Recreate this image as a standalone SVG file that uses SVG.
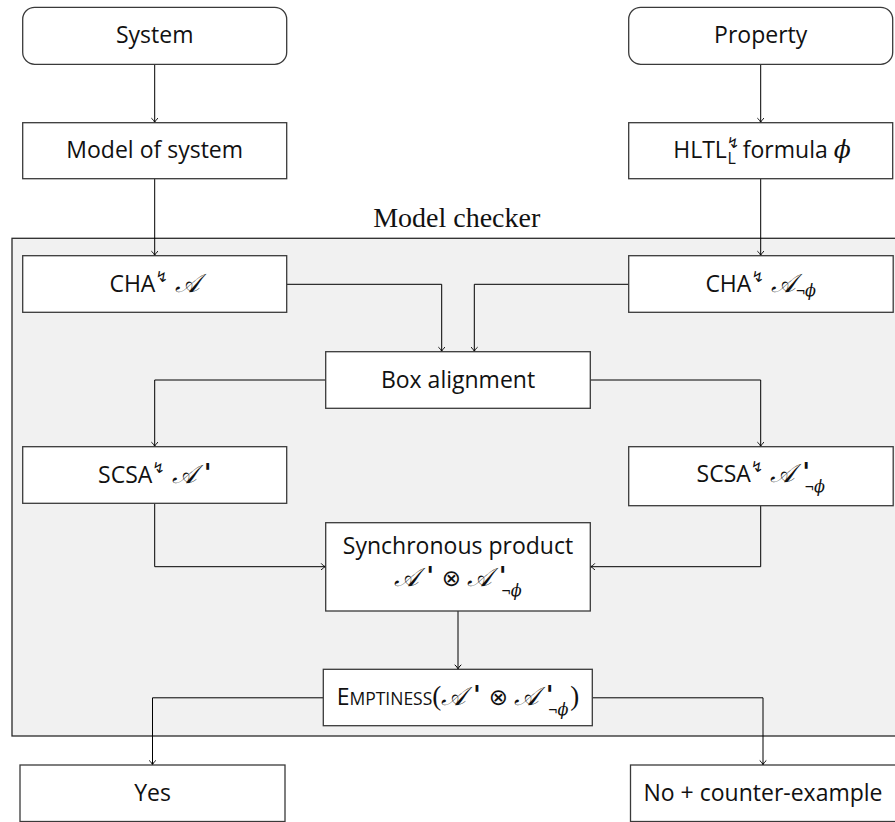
<svg xmlns="http://www.w3.org/2000/svg" width="895" height="822" viewBox="0 0 895 822">
  <style>
    .box { fill: #ffffff; stroke: #3a3a3a; stroke-width: 1.3; }
    .frame { fill: #f1f1f1; stroke: #2a2a2a; stroke-width: 1.3; }
    .lbl { font-family: "Open Sans", "Noto Sans", sans-serif; font-size: 23px; fill: #111111; text-anchor: middle; }
    .title { font-family: "Liberation Serif", "DejaVu Serif", serif; font-size: 28px; fill: #111111; text-anchor: middle; }
    .sup { font-family: "DejaVu Sans", sans-serif; font-size: 15px; }
    .sub { font-size: 16px; }
    .scr { font-family: "DejaVu Serif", "Liberation Serif", serif; font-style: italic; font-size: 26px; }
    .pr { font-family: "DejaVu Sans", sans-serif; font-style: oblique; font-weight: bold; font-size: 24px; }
    .mi { font-family: "DejaVu Serif", "Liberation Serif", serif; font-style: italic; }
    .op { font-family: "DejaVu Sans", sans-serif; }
    .par { font-family: "Liberation Serif", serif; font-size: 27px; }
    .sc { font-size: 17.5px; }
    .conn path { fill: none; stroke: #000000; stroke-width: 1; marker-end: url(#tip); }
  </style>
  <defs>
    <marker id="tip" viewBox="-6 -5 8 10" markerWidth="8" markerHeight="10" refX="0" refY="0" orient="auto" markerUnits="userSpaceOnUse">
      <path d="M-4.5,-3.3 C-3,-1.4 -1.2,-0.3 0,0 C-1.2,0.3 -3,1.4 -4.5,3.3" fill="none" stroke="#000" stroke-width="1"/>
    </marker>
  </defs>

  <!-- model checker frame -->
  <g id="model-checker">
    <rect class="frame" x="12" y="238.3" width="890" height="497.7"/>
    <text class="title" x="456.7" y="227">Model checker</text>
  </g>

  <!-- connectors -->
  <g id="connectors" class="conn">
    <path d="M154.7,64.3 V122.7"/>
    <path d="M760.7,64.3 V122.7"/>
    <path d="M154.7,178.7 V255.7"/>
    <path d="M760.7,178.7 V255.7"/>
    <path d="M286.7,284.3 H441.7 V351.7"/>
    <path d="M628.7,284.3 H474.3 V351.7"/>
    <path d="M325.7,380 H154.7 V446.7"/>
    <path d="M590.3,380 H760.7 V446.7"/>
    <path d="M154.7,503.3 V566.7 H325.7"/>
    <path d="M760.7,505.7 V566.7 H590.3"/>
    <path d="M458,611 V669.3"/>
    <path d="M323.3,697.8 H152.5 V765"/>
    <path d="M592.3,697.8 H763 V765"/>
  </g>

  <g id="system">
    <rect class="box" x="22.7" y="7.3" width="264" height="57" rx="12"/>
    <text class="lbl" x="154.7" y="43">System</text>
  </g>
  <g id="property">
    <rect class="box" x="628.7" y="7.3" width="264" height="57" rx="12"/>
    <text class="lbl" x="760.7" y="43">Property</text>
  </g>
  <g id="model-of-system">
    <rect class="box" x="22.7" y="122.7" width="264" height="56"/>
    <text class="lbl" x="154.7" y="158">Model of system</text>
  </g>
  <g id="formula">
    <rect class="box" x="628.7" y="122.7" width="264" height="56"/>
    <text class="lbl" x="762" y="158">HLTL<tspan class="sup" dy="-10">↯</tspan><tspan class="sub" dx="-12" dy="16">L</tspan><tspan dx="7" dy="-6">formula </tspan><tspan class="mi" font-size="25">ϕ</tspan></text>
  </g>
  <g id="cha-system">
    <rect class="box" x="22.7" y="255.7" width="264" height="56.6"/>
    <text class="lbl" x="154.7" y="292">CHA<tspan class="sup" dy="-10">↯</tspan><tspan class="scr" dx="7" dy="10">𝒜</tspan></text>
  </g>
  <g id="cha-property">
    <rect class="box" x="628.7" y="255.7" width="264.5" height="56.6"/>
    <text class="lbl" x="760.7" y="292">CHA<tspan class="sup" dy="-10">↯</tspan><tspan class="scr" dx="7" dy="10">𝒜</tspan><tspan class="sub" dy="4">¬</tspan><tspan class="sub mi">ϕ</tspan></text>
  </g>
  <g id="box-alignment">
    <rect class="box" x="325.7" y="351.7" width="264.6" height="56.6"/>
    <text class="lbl" x="458" y="388">Box alignment</text>
  </g>
  <g id="scsa-system">
    <rect class="box" x="22.7" y="446.7" width="264" height="56.6"/>
    <text class="lbl" x="154.7" y="483">SCSA<tspan class="sup" dy="-10">↯</tspan><tspan class="scr" dx="7" dy="10">𝒜</tspan><tspan class="pr" dx="7" dy="-2">'</tspan></text>
  </g>
  <g id="scsa-property">
    <rect class="box" x="628.7" y="446.7" width="264.5" height="59"/>
    <text class="lbl" x="760.7" y="482">SCSA<tspan class="sup" dy="-10">↯</tspan><tspan class="scr" dx="7" dy="10">𝒜</tspan><tspan class="pr" dx="7" dy="-2">'</tspan><tspan class="sub" dx="-5" dy="12">¬</tspan><tspan class="sub mi">ϕ</tspan></text>
  </g>
  <g id="product">
    <rect class="box" x="325.7" y="522.7" width="264.6" height="88.3"/>
    <text class="lbl" x="458" y="554">Synchronous product</text>
    <text class="lbl" x="458" y="586"><tspan class="scr">𝒜</tspan><tspan class="pr" dx="7" dy="-2">'</tspan><tspan class="op" dx="8" dy="2">⊗</tspan><tspan class="scr" dx="6">𝒜</tspan><tspan class="pr" dx="7" dy="-2">'</tspan><tspan class="sub" dx="-5" dy="12">¬</tspan><tspan class="sub mi">ϕ</tspan></text>
  </g>
  <g id="emptiness">
    <rect class="box" x="323.3" y="669.3" width="269" height="56.4"/>
    <text class="lbl" x="458" y="705">E<tspan class="sc">MPTINESS</tspan><tspan class="par">(</tspan><tspan class="scr">𝒜</tspan><tspan class="pr" dx="7" dy="-2">'</tspan><tspan class="op" dx="8" dy="2">⊗</tspan><tspan class="scr" dx="6">𝒜</tspan><tspan class="pr" dx="7" dy="-2">'</tspan><tspan class="sub" dx="-5" dy="12">¬</tspan><tspan class="sub mi">ϕ</tspan><tspan class="par" dx="2" dy="-10">)</tspan></text>
  </g>
  <g id="yes">
    <rect class="box" x="20" y="765" width="265" height="56.5"/>
    <text class="lbl" x="152.5" y="801">Yes</text>
  </g>
  <g id="no">
    <rect class="box" x="630.5" y="765" width="266" height="56.5"/>
    <text class="lbl" x="763" y="801">No + counter-example</text>
  </g>
</svg>
